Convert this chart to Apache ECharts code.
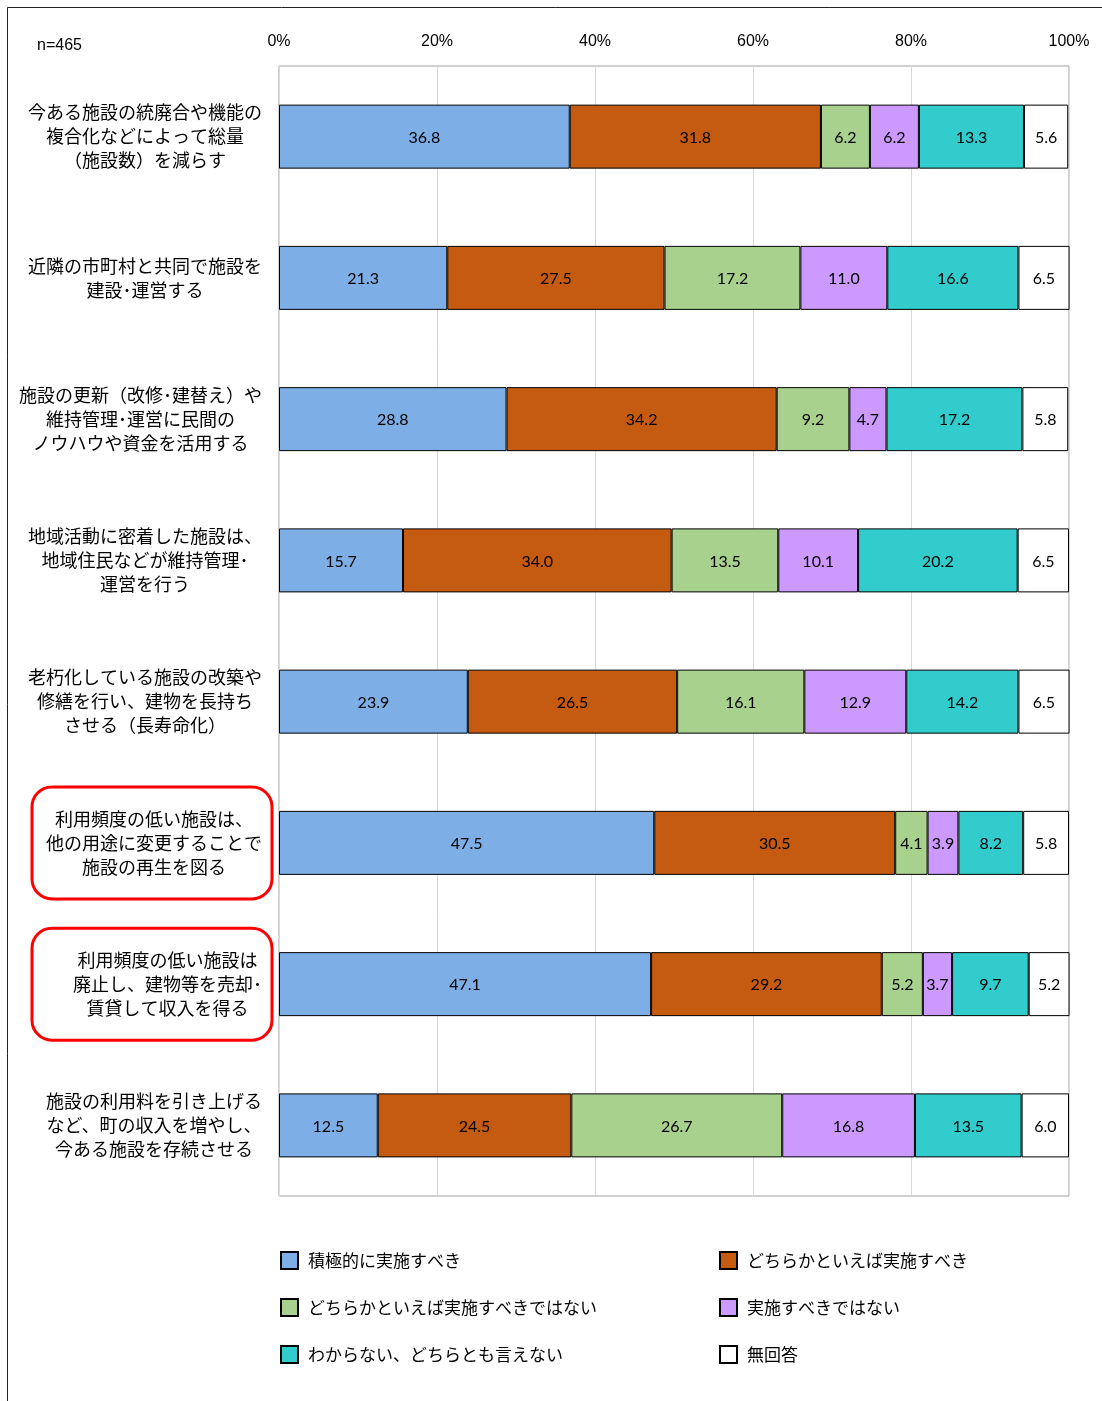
<!DOCTYPE html>
<html><head><meta charset="utf-8">
<script src="https://cdn.jsdelivr.net/npm/echarts@6/dist/echarts.min.js"></script>
<style>html,body{margin:0;padding:0;background:#fff}#c{width:1102px;height:1401px}</style>
</head><body><div id="c"></div>
<script>
const categories = [
  '今ある施設の統廃合や機能の\n複合化などによって総量\n（施設数）を減らす',
  '近隣の市町村と共同で施設を\n建設･運営する',
  '施設の更新（改修･建替え）や\n維持管理･運営に民間の\nノウハウや資金を活用する',
  '地域活動に密着した施設は、\n地域住民などが維持管理･\n運営を行う',
  '老朽化している施設の改築や\n修繕を行い、建物を長持ち\nさせる（長寿命化）',
  '利用頻度の低い施設は、\n他の用途に変更することで\n施設の再生を図る',
  '利用頻度の低い施設は\n廃止し、建物等を売却･\n賃貸して収入を得る',
  '施設の利用料を引き上げる\nなど、町の収入を増やし、\n今ある施設を存続させる'
];
const seriesNames = ['積極的に実施すべき','どちらかといえば実施すべき','どちらかといえば実施すべきではない','実施すべきではない','わからない、どちらとも言えない','無回答'];
const s1 = [36.8, 21.3, 28.8, 15.7, 23.9, 47.5, 47.1, 12.5];
const s2 = [31.8, 27.5, 34.2, 34.0, 26.5, 30.5, 29.2, 24.5];
const s3 = [6.2, 17.2, 9.2, 13.5, 16.1, 4.1, 5.2, 26.7];
const s4 = [6.2, 11.0, 4.7, 10.1, 12.9, 3.9, 3.7, 16.8];
const s5 = [13.3, 16.6, 17.2, 20.2, 14.2, 8.2, 9.7, 13.5];
const s6 = [5.6, 6.5, 5.8, 6.5, 6.5, 5.8, 5.2, 6.0];
const sampleLabel = 'n=465';
const highlighted = [5, 6];
const colors = ['#7eaee6','#c55a11','#a9d18e','#cc99ff','#33cccc','#ffffff'];
const allData = [s1, s2, s3, s4, s5, s6];

const chart = echarts.init(document.getElementById('c'), null, {renderer:'canvas'});
const jp = '"Noto Sans CJK JP", "Noto Sans", sans-serif';
const series = seriesNames.map((n, i) => ({
  name: n, type: 'bar', stack: 'total', barWidth: 64,
  data: allData[i],
  itemStyle: {color: colors[i], borderColor: '#000', borderWidth: 1},
  label: {show: true, position: 'inside', color: '#000', fontFamily: 'Lato, sans-serif', fontSize: 16,
    offset: [0, 1], formatter: p => p.value.toFixed(1)},
  emphasis: {disabled: true}
}));
const legendCommon = {
  orient: 'vertical', top: 1251, padding: 0, itemWidth: 17, itemHeight: 17, itemGap: 28, icon: 'rect',
  textStyle: {fontFamily: jp, fontSize: 17, color: '#000', lineHeight: 17, padding: [0,0,0,5]},
  selectedMode: false
};
chart.setOption({
  animation: false,
  backgroundColor: '#fff',
  grid: {left: 279, right: 33, top: 66, height: 1130, show: true, borderColor: '#a0a0a0', borderWidth: 1},
  xAxis: {type: 'value', position: 'top', min: 0, max: 100, interval: 20,
    axisLine: {show: false}, axisTick: {show: false},
    axisLabel: {formatter: '{value}%', fontFamily: '"Liberation Sans", Arial, sans-serif', fontSize: 16, color: '#000', margin: 16},
    splitLine: {show: true, lineStyle: {color: '#d9d9d9', width: 1}}},
  yAxis: {type: 'category', inverse: true, data: categories,
    axisLine: {show: false}, axisTick: {show: false},
    axisLabel: {align: 'right', margin: 17,
      formatter: v => v.split('\n').map(l => '{c|' + l + '}').join('\n'),
      rich: {c: {align: 'center', fontFamily: jp, fontSize: 18, lineHeight: 24, color: '#000'}}}},
  legend: [
    Object.assign({left: 280, data: [seriesNames[0], seriesNames[2], seriesNames[4]]}, legendCommon),
    Object.assign({left: 719, data: [seriesNames[1], seriesNames[3], seriesNames[5]]}, legendCommon)
  ],
  series: series
});
const boxes = highlighted.map(i => {
  const cy = chart.convertToPixel({yAxisIndex: 0}, i);
  return {type: 'rect', shape: {x: 32, y: cy - 56, width: 240, height: 112, r: 20},
    style: {fill: 'none', stroke: '#ff0000', lineWidth: 3}, z: 10};
});
chart.setOption({graphic: [
  {type: 'rect', shape: {x: 7.5, y: 7.5, width: 1300, height: 1600}, style: {fill: 'none', stroke: '#222', lineWidth: 1}, z: 0, silent: true},
  {type: 'text', left: 37, top: 38, style: {text: sampleLabel, font: '16px "Liberation Sans", Arial, sans-serif', fill: '#000'}},
  ...boxes
]});
</script></body></html>
